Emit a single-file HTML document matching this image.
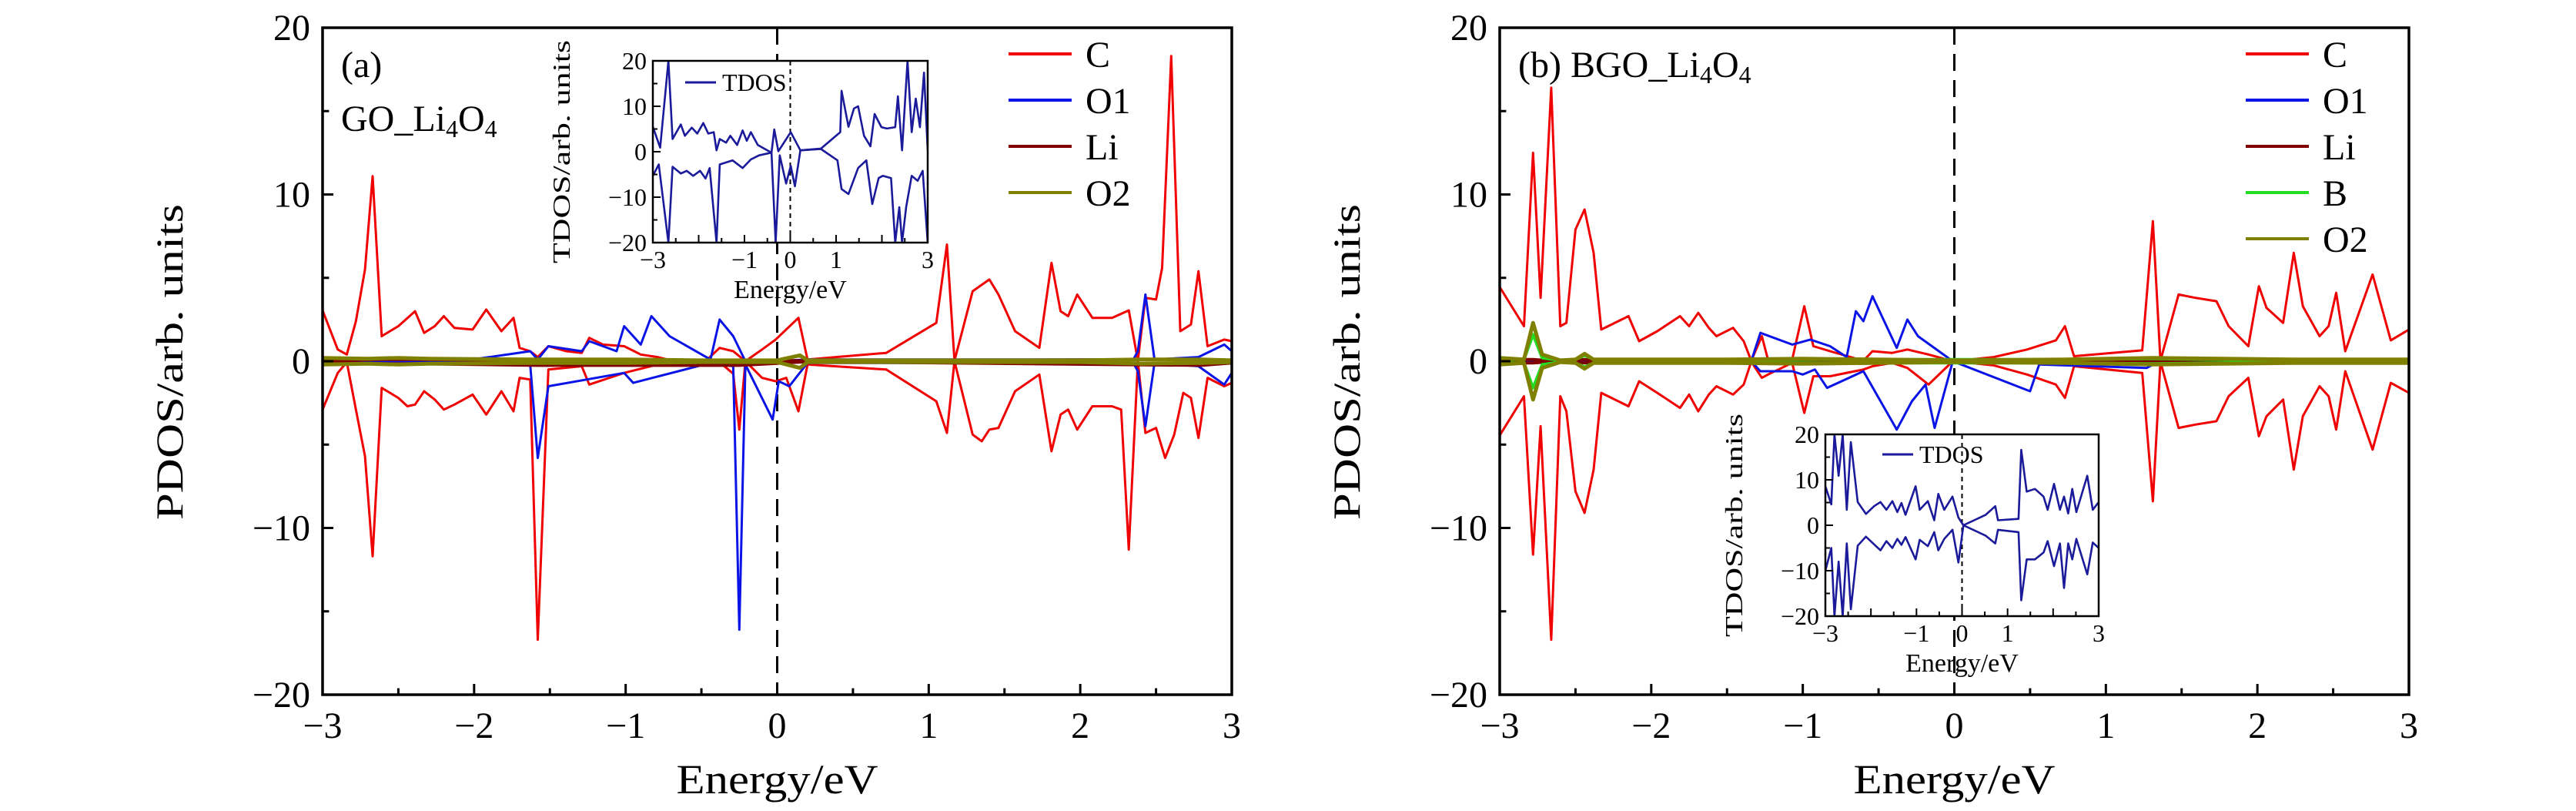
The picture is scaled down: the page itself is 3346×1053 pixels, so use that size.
<!DOCTYPE html>
<html><head><meta charset="utf-8"><style>
html,body{margin:0;padding:0;background:#fff;}
svg{display:block;}
text{font-family:"Liberation Serif",serif;fill:#000;}
</style></head><body>
<svg id="fig" width="3346" height="1053" viewBox="0 0 3346 1053" xmlns="http://www.w3.org/2000/svg"></svg>
<script>
// ---------- Panel (a) data ----------
const aC_upE=[-3,-2.9,-2.84,-2.78,-2.72,-2.67,-2.61,-2.5,-2.39,-2.33,-2.26,-2.2,-2.13,-2.01,-1.92,-1.82,-1.74,-1.7,-1.63,-1.58,-1.51,-1.39,-1.29,-1.24,-1.15,-1.01,-0.9,-0.79,-0.69,-0.47,-0.38,-0.29,-0.21,-0.1,-0.01,0.14,0.2,0.72,1.05,1.12,1.17,1.29,1.4,1.46,1.57,1.73,1.81,1.87,1.92,1.98,2.08,2.21,2.32,2.38,2.43,2.5,2.54,2.6,2.66,2.73,2.78,2.84,2.95,3];
const aC_up=[3.05,0.7,0.4,2.4,5.5,11.1,1.5,2.1,3.0,1.7,2.1,2.7,2.0,1.9,3.1,1.8,2.6,0.8,0.6,0.25,0.9,0.6,0.5,1.4,1.0,0.9,0.4,0.25,0.03,0.03,0.8,0.6,0,0.7,1.3,2.6,0.1,0.5,2.3,7.0,0.03,4.2,4.9,4.0,1.8,0.8,5.9,3.0,2.7,4.0,2.6,2.6,3.05,0.03,3.8,3.7,5.6,18.3,1.8,2.2,5.4,0.9,1.3,1.2];
const aC_dnE=[-3,-2.9,-2.84,-2.78,-2.72,-2.67,-2.61,-2.5,-2.44,-2.39,-2.33,-2.26,-2.2,-2.13,-2.01,-1.92,-1.82,-1.74,-1.7,-1.63,-1.58,-1.51,-1.29,-1.24,-1.01,-0.79,-0.47,-0.38,-0.29,-0.25,-0.21,-0.1,-0.01,0.06,0.14,0.2,0.72,1.05,1.12,1.17,1.29,1.35,1.4,1.46,1.57,1.73,1.81,1.87,1.92,1.98,2.08,2.21,2.27,2.32,2.38,2.43,2.5,2.56,2.62,2.68,2.73,2.78,2.84,2.95,3];
const aC_dn=[-2.9,-0.7,-0.06,-2.9,-5.7,-11.7,-1.6,-2.2,-2.7,-2.6,-1.8,-2.3,-2.9,-2.6,-2.0,-3.2,-1.8,-3.0,-1.0,-1.1,-16.7,-0.5,-0.3,-1.4,-0.7,-0.2,0,-0.06,-0.75,-4.1,0,-1.0,-1.2,-1.0,-3.0,-0.2,-0.5,-2.4,-4.3,0,-4.4,-4.8,-4.1,-4.0,-1.8,-0.8,-5.4,-3.2,-2.9,-4.1,-2.7,-2.7,-2.9,-11.3,0,-4.3,-4.0,-5.8,-4.4,-1.9,-2.2,-4.6,-1.0,-1.5,-1.3];
const aO1_upE=[-3,-2.09,-1.63,-1.58,-1.51,-1.29,-1.24,-1.06,-1.01,-0.9,-0.83,-0.71,-0.44,-0.38,-0.29,-0.21,-0.01,0.2,2.35,2.38,2.43,2.49,2.78,2.95,3];
const aO1_up=[0,0,0.6,0.1,0.9,0.6,1.2,0.6,2.1,1.0,2.7,1.5,0.1,2.5,1.5,0,0,0.1,0.1,0.6,4.0,0.1,0.25,1.0,0.6];
const aO1_dnE=[-3,-2.09,-1.63,-1.58,-1.51,-1.01,-0.95,-0.44,-0.29,-0.25,-0.21,-0.03,0.01,0.08,0.2,2.35,2.38,2.43,2.49,2.78,2.95,3];
const aO1_dn=[0,0,-0.2,-5.8,-1.5,-0.7,-1.3,-0.1,-0.3,-16.1,-0.2,-3.5,-1.2,-1.5,-0.1,-0.1,-0.6,-3.9,-0.1,-0.3,-1.4,-0.7];
const aLi_E=[-3,-2.6,-2.4,-1.58,-0.25,0.2,2.8,3];
const aLi_up=[0.05,0.1,0.1,0.05,0.05,0.03,0.1,0.05];
const aLi_dn=[-0.05,-0.15,-0.15,-0.25,-0.25,-0.03,-0.25,-0.1];
const aO2_E=[-3,-2.7,-2.5,-2.3,-1.6,-1.0,-0.5,0,0.15,0.2,1,2,2.4,2.8,3];
const aO2_up=[0.2,0.15,0.2,0.15,0.1,0.1,0.05,0.05,0.35,0.05,0.05,0.05,0.1,0.1,0.05];
const aO2_dn=[-0.2,-0.15,-0.2,-0.15,-0.1,-0.1,-0.05,-0.05,-0.4,-0.05,-0.05,-0.05,-0.15,-0.1,-0.05];
const aT_upE=[-3,-2.84,-2.66,-2.57,-2.39,-2.3,-2.15,-2.03,-1.9,-1.79,-1.67,-1.61,-1.54,-1.4,-1.31,-1.16,-1.04,-0.95,-0.86,-0.71,-0.41,-0.35,-0.26,0.01,0.22,0.67,1.09,1.12,1.27,1.39,1.48,1.61,1.75,1.84,1.99,2.11,2.29,2.35,2.44,2.56,2.65,2.74,2.83,2.92,3];
const aT_up=[5.5,0.9,20,2.8,6.0,3.5,5.3,4.0,6.3,4.0,4.3,0.3,2.8,2.0,3.5,1.5,4.7,2.4,4.3,1.5,-0.2,4.9,0.1,4.3,0.3,0.7,4.3,13.4,5.5,9.5,10,3.5,1.2,8.3,5.4,5.1,5.4,12.2,0.3,20,4.3,11.7,5.4,17.4,0.3];
const aT_dnE=[-3,-2.87,-2.66,-2.57,-2.39,-2.26,-2.12,-1.97,-1.85,-1.76,-1.61,-1.54,-1.26,-1.04,-0.86,-0.68,-0.41,-0.32,-0.23,-0.09,0.01,0.1,0.22,0.67,1.03,1.12,1.27,1.48,1.66,1.79,1.93,2.02,2.2,2.29,2.38,2.44,2.53,2.65,2.78,2.89,3];
const aT_dn=[-5.3,-2.8,-20,-3.3,-4.8,-4.2,-5.3,-4.2,-5.9,-3.6,-20,-2.8,-1.9,-3.6,-1.7,-0.8,-0.2,-20,-0.8,-7.0,-3.1,-7.6,0.3,0.6,-1.9,-8.2,-9.3,-3.6,-1.9,-11.5,-5.8,-5.3,-5.8,-20,-12.2,-20,-12.2,-5.3,-6.4,-4.2,-20];
// ---------- Panel (b) data ----------
const bC_E=[-3,-2.84,-2.78,-2.73,-2.66,-2.6,-2.56,-2.5,-2.44,-2.38,-2.33,-2.15,-2.08,-1.96,-1.81,-1.75,-1.69,-1.62,-1.57,-1.46,-1.39,-1.34,-1.27,-1.23,-1.07,-0.99,-0.93,-0.82,-0.6,-0.54,-0.41,-0.31,-0.17,-0.01,0.26,0.48,0.67,0.73,0.79,1.24,1.31,1.36,1.48,1.59,1.73,1.81,1.94,2.01,2.06,2.17,2.24,2.3,2.41,2.47,2.52,2.58,2.76,2.88,3];
const bC_up=[4.45,2.1,12.5,3.8,16.4,2.1,2.3,7.9,9.1,6.5,1.9,2.7,1.2,1.8,2.7,2.1,2.9,2.0,1.5,2.0,1.2,0.03,1.5,0.1,0.1,3.3,0.9,0.6,0.03,0.6,0.5,0.7,0.4,0,0.25,0.7,1.25,2.1,0.3,0.65,8.4,0.03,4.0,3.8,3.6,2.1,0.9,4.5,3.2,2.3,6.5,3.3,1.5,2.1,4.1,0.6,5.2,1.25,1.9];
const bC_dn=[-4.45,-2.1,-11.6,-3.9,-16.7,-2.1,-3.0,-7.8,-9.1,-6.5,-1.9,-2.7,-1.2,-1.9,-2.8,-2.0,-3.0,-2.0,-1.5,-2.0,-1.4,-0.03,-1.0,-0.8,-0.1,-3.1,-0.9,-0.9,-0.5,-0.3,-0.1,-0.4,-1.4,0,-0.25,-0.8,-1.4,-2.2,-0.3,-0.7,-8.4,-0.03,-4.0,-3.8,-3.6,-2.1,-1.0,-4.5,-3.3,-2.3,-6.5,-3.3,-1.5,-2.1,-4.1,-0.6,-5.3,-1.3,-1.9];
const bO1_upE=[-3,-1.34,-1.28,-1.07,-0.95,-0.82,-0.71,-0.65,-0.6,-0.54,-0.38,-0.31,-0.24,-0.01,0.53,3];
const bO1_up=[0,0,1.7,1.0,1.3,0.9,0.25,3.0,2.4,3.9,0.8,2.5,1.5,0,0,0.1];
const bO1_dnE=[-3,-1.34,-1.28,-1.07,-1.0,-0.92,-0.84,-0.6,-0.38,-0.28,-0.19,-0.13,-0.01,0.5,0.56,1.27,1.35,3];
const bO1_dn=[0,0,-0.6,-0.6,-0.8,-0.5,-1.6,-0.6,-4.1,-2.4,-1.4,-4.0,0,-1.8,-0.2,-0.4,0,0];
const bLi_E=[-3,-2.84,-2.78,-2.7,-2.44,-2.3,0,3];
const bLi_up=[0.05,0.1,0.1,0.05,0.1,0.05,0.03,0.05];
const bLi_dn=[-0.05,-0.1,-0.1,-0.05,-0.1,-0.05,-0.03,-0.05];
const bB_E=[-3,-2.84,-2.78,-2.72,-2.6,-2.5,-2.44,-2.38,-2.3,-1,0.73,1.31,2.24,3];
const bB_up=[0.1,0.1,1.6,0.2,0.05,0.1,0.35,0.1,0.05,0.1,0.1,0.15,0.05,0.05];
const bB_dn=[-0.1,-0.1,-1.6,-0.2,-0.05,-0.1,-0.35,-0.1,-0.05,-0.1,-0.1,-0.15,-0.05,-0.05];
const bO2_E=[-3,-2.84,-2.78,-2.72,-2.6,-2.5,-2.44,-2.38,-2.3,-1.5,-1,0,0.73,1.31,2.24,2.52,3];
const bO2_up=[0.2,0.1,2.3,0.4,0.05,0.1,0.45,0.1,0.1,0.1,0.15,0.05,0.1,0.2,0.1,0.1,0.1];
const bO2_dn=[-0.2,-0.1,-2.3,-0.4,-0.05,-0.1,-0.45,-0.1,-0.1,-0.1,-0.15,-0.05,-0.1,-0.2,-0.1,-0.1,-0.1];
const bT_E=[-3,-2.87,-2.8,-2.71,-2.62,-2.53,-2.44,-2.29,-2.11,-1.93,-1.79,-1.66,-1.53,-1.42,-1.33,-1.24,-1.02,-0.93,-0.75,-0.61,-0.52,-0.39,-0.21,-0.08,0.03,0.52,0.73,0.79,1.24,1.3,1.42,1.6,1.79,1.88,2.02,2.15,2.24,2.33,2.42,2.51,2.75,2.87,3];
const bT_up=[8.6,4.6,20,10.9,20,3.4,18.3,5.1,2.5,4.2,5.1,3.4,5.3,2.9,4.9,2.3,8.6,3.4,5.3,1.1,6.9,3.4,6.3,1.7,0,2.3,4.2,1.1,1.4,16.6,7.4,8.0,6.3,3.4,9.1,3.4,6.3,2.6,8.0,2.9,10.9,3.4,5.1];
const bT_dn=[-10,-5,-20,-8,-20,-4,-18.5,-4.5,-2.5,-4.2,-5.5,-3.5,-5,-3,-4.3,-2.6,-7.5,-3.2,-4.6,-1.5,-5.5,-3,-1,-8.2,0,-2.3,-4,-1,-1.5,-16.5,-7.5,-7.5,-6,-3.5,-9,-4,-13.8,-4,-7.5,-3,-10.8,-3.8,-5];
const yTicks=[20,10,0,-10,-20];
const xTicks=[-3,-2,-1,0,1,2,3];
const insetXLabels=[-3,-1,0,1,3];

const NS="http://www.w3.org/2000/svg";
const svg=document.getElementById('fig');
function el(tag,attrs,parent,txt){const e=document.createElementNS(NS,tag);for(const k in attrs)e.setAttribute(k,attrs[k]);if(txt!==undefined)e.textContent=txt;(parent||svg).appendChild(e);return e;}
function fmt(v){return v<0?'\u2212'+(-v):String(v);}
function mkScale(d0,d1,r0,r1){return v=>r0+(v-d0)*(r1-r0)/(d1-d0);}
function line(g,xs,ys,X,Y,color,w){let d='';for(let i=0;i<xs.length;i++){d+=(i?'L':'M')+X(xs[i]).toFixed(1)+' '+Y(ys[i]).toFixed(1);}
 const p=el('path',{d:d,fill:'none',stroke:color,'stroke-width':w,'stroke-linejoin':'round'},g);return p;}

function axesFrame(g,L,R,T,B,X,Y,opt){
 el('rect',{x:L,y:T,width:R-L,height:B-T,fill:'none',stroke:'#000','stroke-width':opt.aw},g);
 for(let v=-3;v<=3.001;v+=0.5){const maj=Math.abs(v-Math.round(v))<1e-6;const len=maj?opt.tk:opt.tk*0.6;
  el('line',{x1:X(v),x2:X(v),y1:B,y2:B-len,stroke:'#000','stroke-width':opt.tw},g);}
 for(let v=-20;v<=20;v+=5){const maj=v%10===0;const len=maj?opt.tk:opt.tk*0.6;
  el('line',{x1:L,x2:L+len,y1:Y(v),y2:Y(v),stroke:'#000','stroke-width':opt.tw},g);}
}

function panel(p){
 const g=el('g',{},svg);
 
 
 const L=p.L,R=p.L+1181,T=36,B=902;
 const X=mkScale(-3,3,L,R),Y=mkScale(-20,20,B,T);
 const z=el('line',{x1:X(0),x2:X(0),y1:T,y2:B,stroke:'#000','stroke-width':3,'stroke-dasharray':'22,12'},g);
 
 
 p.series.forEach(s=>{
  const a=line(g,s.E,s.up,X,Y,s.color,s.w);
  
  
  const b=line(g,s.dE||s.E,s.dn,X,Y,s.color,s.w);
  
  
 });
 axesFrame(g,L,R,T,B,X,Y,{aw:3.5,tk:14,tw:3});
 xTicks.forEach(v=>{const t=el('text',{x:X(v),y:958,'font-size':48,'text-anchor':'middle'},g,fmt(v));
  });
 yTicks.forEach(v=>{const t=el('text',{x:L-16,y:Y(v)+16,'font-size':48,'text-anchor':'end'},g,fmt(v));
  });
 const xt=el('text',{x:(L+R)/2,y:1030,'font-size':54,'text-anchor':'middle',textLength:262,lengthAdjust:'spacingAndGlyphs'},g,'Energy/eV');
 
 const yt=el('text',{x:0,y:0,'font-size':50,'text-anchor':'middle',textLength:410,lengthAdjust:'spacingAndGlyphs',transform:`translate(${L-182},470) rotate(-90)`},g,'PDOS/arb. units');
 
 p.series.slice().sort((a,b)=>a.li-b.li).forEach((s,i)=>{
  const ly=70+i*60;
  const lg=el('g',{},g);
  
  
  el('line',{x1:p.legX,x2:p.legX+82,y1:ly,y2:ly,stroke:s.color,'stroke-width':4},lg);
  el('text',{x:p.legX+100,y:ly+17,'font-size':48},lg,s.label);
 });
 p.labels(g);
 const I=p.inset;const ig=el('g',{},g);
 
 
 const IX=mkScale(-3,3,I.L,I.R),IY=mkScale(-20,20,I.B,I.T);
 el('rect',{x:I.L,y:I.T,width:I.R-I.L,height:I.B-I.T,fill:'#fff',stroke:'none'},ig);
 const cp='clip'+p.name;const cpe=el('clipPath',{id:cp},ig);el('rect',{x:I.L,y:I.T,width:I.R-I.L,height:I.B-I.T},cpe);
 const dg=el('g',{'clip-path':`url(#${cp})`},ig);
 el('line',{x1:IX(0),x2:IX(0),y1:I.T,y2:I.B,stroke:'#000','stroke-width':2,'stroke-dasharray':'6,5'},dg);
 const u=line(dg,I.E,I.up,IX,IY,'#1a1a9a',2.6);
 
 const d=line(dg,I.dE||I.E,I.dn,IX,IY,'#1a1a9a',2.6);
 
 axesFrame(ig,I.L,I.R,I.T,I.B,IX,IY,{aw:2.5,tk:10,tw:2});
 insetXLabels.forEach(v=>{const t=el('text',{x:IX(v),y:I.B+33,'font-size':32,'text-anchor':'middle'},ig,fmt(v));
  });
 yTicks.forEach(v=>{const t=el('text',{x:I.L-8,y:IY(v)+11,'font-size':32,'text-anchor':'end'},ig,fmt(v));
  });
 el('text',{x:(I.L+I.R)/2,y:I.B+72,'font-size':34,'text-anchor':'middle'},ig,'Energy/eV');
 el('text',{x:0,y:0,'font-size':32,'text-anchor':'middle',transform:`translate(${I.L-108},${(I.T+I.B)/2}) rotate(-90)`,textLength:290,lengthAdjust:'spacingAndGlyphs'},ig,'TDOS/arb. units');
 el('line',{x1:I.legX,x2:I.legX+40,y1:I.legY,y2:I.legY,stroke:'#1a1a9a','stroke-width':3},ig);
 el('text',{x:I.legX+48,y:I.legY+11,'font-size':32},ig,'TDOS');
}

panel({name:'panel-a',L:419,legX:1310,
 series:[
  {key:'c',label:'C',color:'#f00000',w:3,li:0,E:aC_upE,up:aC_up,dE:aC_dnE,dn:aC_dn},
  {key:'o1',label:'O1',color:'#0a14e6',w:3,li:1,E:aO1_upE,up:aO1_up,dE:aO1_dnE,dn:aO1_dn},
  {key:'li',label:'Li',color:'#800000',w:4,li:2,E:aLi_E,up:aLi_up,dn:aLi_dn},
  {key:'o2',label:'O2',color:'#808000',w:5,li:3,E:aO2_E,up:aO2_up,dn:aO2_dn}],
 labels:g=>{el('text',{x:443,y:100,'font-size':48},g,'(a)');
  const t=el('text',{x:443,y:170,'font-size':48},g);t.innerHTML='GO_Li<tspan font-size="32" dy="8">4</tspan><tspan dy="-8">O</tspan><tspan font-size="32" dy="8">4</tspan>';},
 inset:{L:848,R:1205,T:79,B:315,E:aT_upE,up:aT_up,dE:aT_dnE,dn:aT_dn,legX:890,legY:107}
});
panel({name:'panel-b',L:1948,legX:2917,
 series:[
  {key:'c',label:'C',color:'#f00000',w:3,li:0,E:bC_E,up:bC_up,dn:bC_dn},
  {key:'o1',label:'O1',color:'#0a14e6',w:3,li:1,E:bO1_upE,up:bO1_up,dE:bO1_dnE,dn:bO1_dn},
  {key:'li',label:'Li',color:'#800000',w:4,li:2,E:bLi_E,up:bLi_up,dn:bLi_dn},
  {key:'b',label:'B',color:'#22dd22',w:4,li:3,E:bB_E,up:bB_up,dn:bB_dn},
  {key:'o2',label:'O2',color:'#808000',w:5,li:4,E:bO2_E,up:bO2_up,dn:bO2_dn}],
 labels:g=>{const t=el('text',{x:1972,y:100,'font-size':48},g);t.innerHTML='(b)  BGO_Li<tspan font-size="32" dy="8">4</tspan><tspan dy="-8">O</tspan><tspan font-size="32" dy="8">4</tspan>';},
 inset:{L:2371,R:2726,T:564,B:800,E:bT_E,up:bT_up,dn:bT_dn,legX:2445,legY:590}
});
</script>
</body></html>
